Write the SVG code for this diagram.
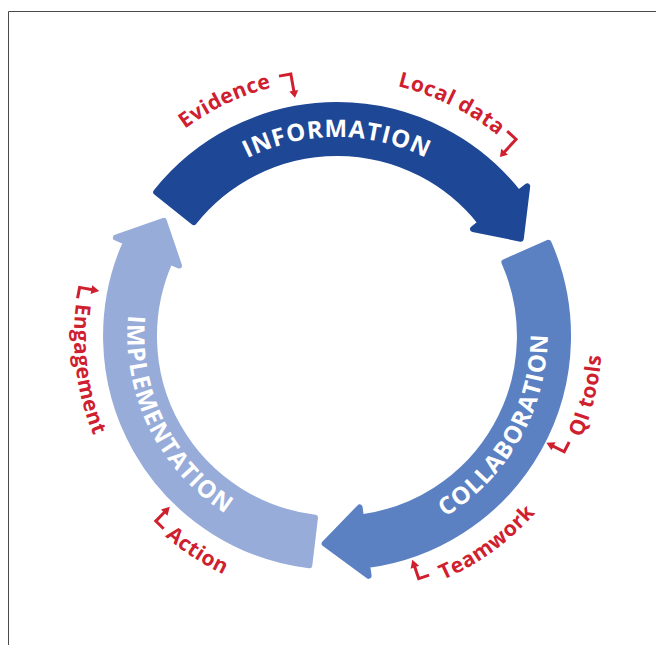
<svg xmlns="http://www.w3.org/2000/svg" xmlns:xlink="http://www.w3.org/1999/xlink" width="656" height="645" viewBox="0 0 656 645">
  <style>
    .ring { stroke-width: 6; stroke-linejoin: round; }
    .stage { font-family: "Open Sans", "Liberation Sans", sans-serif; font-weight: 700; font-size: 24px; fill: #ffffff; letter-spacing: 1px; }
    .label { font-family: "Open Sans", "Liberation Sans", sans-serif; font-weight: 700; font-size: 21px; fill: #cf2030; letter-spacing: 0.5px; }
    .mark { fill: none; stroke: #cf2030; stroke-width: 3; stroke-linejoin: miter; }
    .head { fill: #cf2030; }
  </style>
  <defs>
    <!-- baselines for curved text, centre (337,336) -->
    <path id="p-info" d="M138,336 A199,199 0 0 1 536,336"/>
    <path id="p-collab" d="M232.3,522.6 A214,214 0 0 0 441.7,149.4"/>
    <path id="p-impl" d="M243,144.9 A213,213 0 0 0 431,527.1"/>
    <path id="p-evidence" d="M105,446.6 A257,257 0 0 1 569,225.4"/>
    <path id="p-local" d="M106.4,222.5 A257,257 0 0 1 567.6,449.5"/>
    <path id="p-qi" d="M275.6,593.8 A265,265 0 0 0 398.4,78.2"/>
    <path id="p-team" d="M121.5,492 A266,266 0 0 0 552.5,180"/>
    <path id="p-action" d="M115.6,192.2 A264,264 0 0 0 558.4,479.8"/>
    <path id="p-engage" d="M302.2,75.3 A263,263 0 0 0 371.8,596.7"/>
    <!-- small bent arrows next to the labels -->
    <g id="mark-down">
      <path class="mark" d="M-12,-9 H0 V9"/>
      <polygon class="head" points="-4.5,8 4.5,8 0,15"/>
    </g>
    <g id="mark-up">
      <path class="mark" d="M11,0 H0 V-13"/>
      <polygon class="head" points="-4.5,-12 4.5,-12 0,-20"/>
    </g>
  </defs>

  <!-- frame lines -->
  <path d="M8.5,645 V11.5 H656" fill="none" stroke="#4a4a4a" stroke-width="1"/>

  <g id="connectors">
    <g id="information-arrow">
      <path class="ring" fill="#1e4796" stroke="#1e4796" d="M156.2,192.2 A231,231 0 0 1 518.5,193.1 L527.2,186.3 L520.8,238.7 L473,229 L480.8,222.8 A183,183 0 0 0 193.8,222.1 Z"/>
    </g>
    <g id="collaboration-arrow">
      <path class="ring" fill="#5b81c2" stroke="#5b81c2" d="M548.4,242.8 A231,231 0 0 1 367.1,565 L368.6,575.9 L324.7,543.6 L359.6,507.5 L360.9,517.4 A183,183 0 0 0 504.4,262.2 Z"/>
    </g>
    <g id="implementation-arrow">
      <path class="ring" fill="#97acd9" stroke="#97acd9" d="M309.3,565.3 A231,231 0 0 1 126,242.1 L115.9,237.6 L163.8,220.9 L179,265.6 L169.8,261.6 A183,183 0 0 0 315,517.7 Z"/>
    </g>
  </g>

  <g id="information">
    <text class="stage"><textPath href="#p-info" startOffset="50%" text-anchor="middle">INFORMATION</textPath></text>
  </g>
  <g id="collaboration">
    <text class="stage"><textPath href="#p-collab" startOffset="50%" text-anchor="middle">COLLABORATION</textPath></text>
  </g>
  <g id="implementation">
    <text class="stage"><textPath href="#p-impl" startOffset="50%" text-anchor="middle">IMPLEMENTATION</textPath></text>
  </g>

  <g id="evidence">
    <text class="label"><textPath href="#p-evidence" startOffset="50%" text-anchor="middle">Evidence</textPath></text>
    <use href="#mark-down" transform="translate(292.4,82.9) rotate(350)"/>
  </g>
  <g id="local-data">
    <text class="label"><textPath href="#p-local" startOffset="50%" text-anchor="middle">Local data</textPath></text>
    <use href="#mark-down" transform="translate(510,145.9) rotate(42.3)"/>
  </g>
  <g id="qi-tools">
    <text class="label"><textPath href="#p-qi" startOffset="50%" text-anchor="middle">QI tools</textPath></text>
    <use href="#mark-up" transform="translate(564.2,451.8) rotate(-63)"/>
  </g>
  <g id="teamwork">
    <text class="label"><textPath href="#p-team" startOffset="50%" text-anchor="middle">Teamwork</textPath></text>
    <use href="#mark-up" transform="translate(418.7,578.6) rotate(-18.6)"/>
  </g>
  <g id="action">
    <text class="label"><textPath href="#p-action" startOffset="50%" text-anchor="middle">Action</textPath></text>
    <use href="#mark-up" transform="translate(155.8,521.1) rotate(44.4)"/>
  </g>
  <g id="engagement">
    <text class="label"><textPath href="#p-engage" startOffset="50%" text-anchor="middle">Engagement</textPath></text>
    <use href="#mark-up" transform="translate(79.6,287.4) rotate(100.7)"/>
  </g>
</svg>
